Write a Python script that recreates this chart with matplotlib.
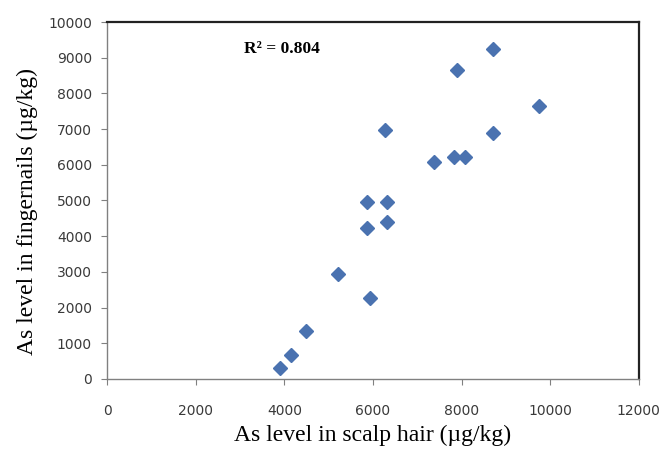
import matplotlib.pyplot as plt

# As level in scalp hair vs fingernails (ug/kg)
hair = [3900, 4150, 4490, 5210, 5930, 5870, 6310, 5870, 6310, 6270,
        7380, 7830, 8080, 8710, 7900, 8710, 9750]
nails = [310, 670, 1340, 2940, 2270, 4960, 4960, 4230, 4400, 6970,
         6080, 6220, 6220, 6890, 8650, 9240, 7650]
x_ticks = [0, 2000, 4000, 6000, 8000, 10000, 12000]
y_ticks = [0, 1000, 2000, 3000, 4000, 5000, 6000, 7000, 8000, 9000, 10000]

fig = plt.figure(figsize=(6.62, 4.5), dpi=100)
ax = fig.add_axes([0.162, 0.158, 0.803, 0.793])

ax.plot(hair, nails, linestyle='none', marker='D', ms=7,
        color='#4a72b0', markeredgecolor='#4a72b0')

ax.set_xlim(0, 12000)
ax.set_ylim(0, 10000)
ax.set_xticks(x_ticks)
ax.set_yticks(y_ticks)
ax.tick_params(direction='out', length=4, color='#808080',
               labelsize=10, labelcolor='#3a3a3a')
ax.tick_params(axis='x', pad=14)
ax.tick_params(axis='y', pad=7)
for lab in ax.get_xticklabels() + ax.get_yticklabels():
    lab.set_family('DejaVu Sans')

for side in ['left', 'bottom']:
    ax.spines[side].set_color('#808080')
    ax.spines[side].set_linewidth(1)
for side in ['top', 'right']:
    ax.spines[side].set_color('#222222')
    ax.spines[side].set_linewidth(1.6)

ax.set_xlabel('As level in scalp hair (\u00b5g/kg)', family='Liberation Serif',
              fontsize=17, labelpad=5)
ax.set_ylabel('As level in fingernails (\u00b5g/kg)', family='Liberation Serif',
              fontsize=17, labelpad=3)
ax.yaxis.set_label_coords(-0.13, 0.47)

ax.text(0.258, 0.925, 'R\u00b2 = 0.804', transform=ax.transAxes,
        family='Liberation Serif', fontweight='bold', fontsize=12.5,
        ha='left', va='center')

fig.savefig('out.png', dpi=100)
